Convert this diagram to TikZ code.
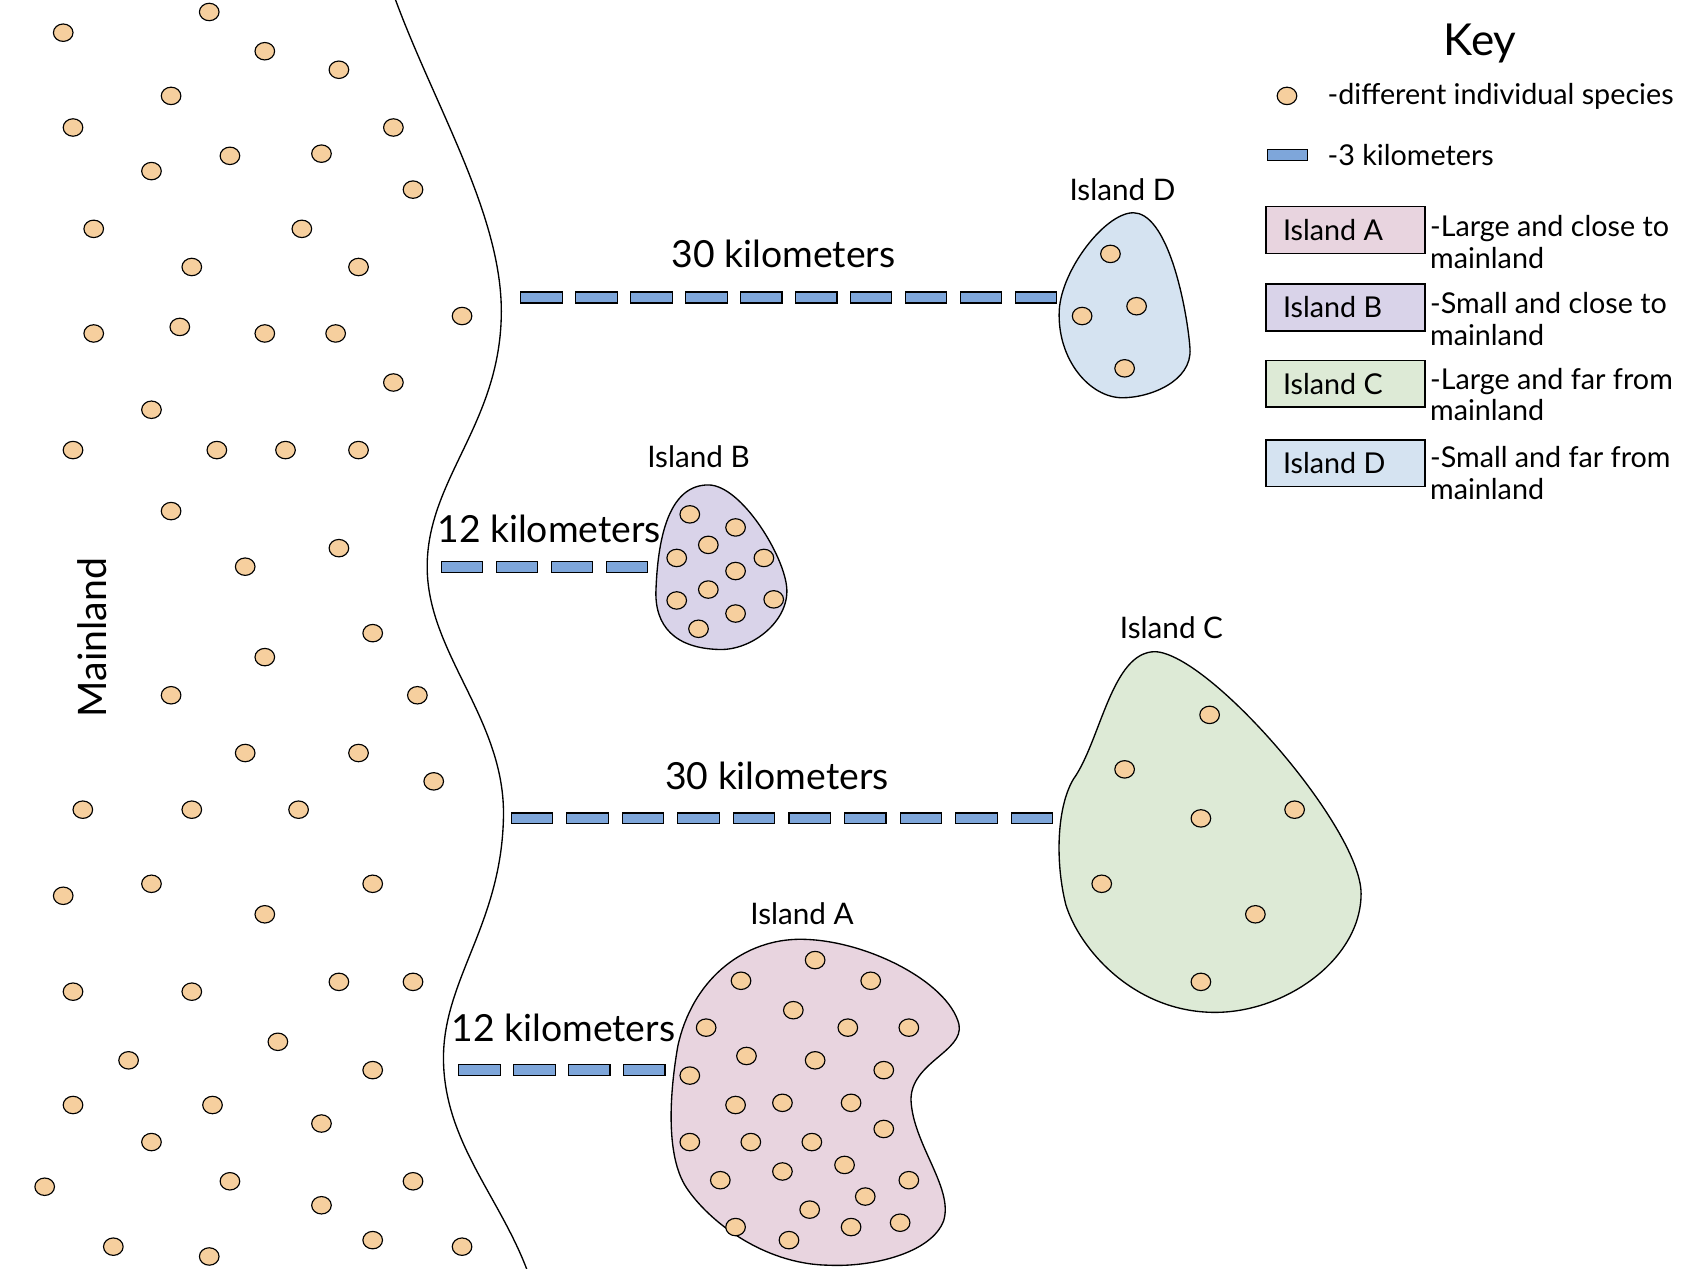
\documentclass[tikz,border=0pt]{standalone}
\usepackage{fontspec}
\setmainfont{Lato}
\begin{document}
\begin{tikzpicture}[x=0.02cm,y=-0.02cm,
  sp/.style={draw=black,line width=0.6pt,fill=spc},
  dsh/.style={draw=black,line width=0.6pt,fill=dashc},
  isl/.style={draw=black,line width=0.7pt},
  km/.style={font=\fontsize{19.5}{22}\selectfont},
  lbl/.style={font=\fontsize{15.5}{18}\selectfont},
  keyt/.style={font=\fontsize{15}{16.5}\selectfont,align=left,anchor=west,inner sep=0pt},
  keybox/.style={draw=black,line width=0.7pt,minimum width=2.92cm,minimum height=0.86cm,anchor=north west,inner sep=0pt},
  boxt/.style={font=\fontsize{15}{17}\selectfont,anchor=west,inner sep=0pt,xshift=0.32cm}]
\definecolor{spc}{HTML}{F6CF9E}
\definecolor{dashc}{HTML}{7EA6DA}
\definecolor{ca}{HTML}{E8D4DF}
\definecolor{cb}{HTML}{D9D3E9}
\definecolor{cc}{HTML}{DDEAD6}
\definecolor{cd}{HTML}{D5E3F1}
\useasboundingbox (0,0) rectangle (1560,1164.5);
% mainland coast
\draw[line width=0.7pt] (363,0) .. controls (400,100) and (462,200) .. (460,290)
  .. controls (458,390) and (392,440) .. (392,520)
  .. controls (392,600) and (464,660) .. (462,750)
  .. controls (460,850) and (405,900) .. (407,975)
  .. controls (409,1050) and (460,1100) .. (485,1169);
\node[rotate=90,font=\fontsize{20.5}{24}\selectfont] (ml) at (85,585) {Mainland};
% mainland species
\foreach \p in {(58,30),(192,11),(243,47),(311,64),(157,88),(67,117),(361,117),(139,157),(211,143),(295,141),(379,174),(86,210),(277,210),(176,245),(329,245),(424,290),(86,306),(165,300),(243,306),(308,306),(361,351),(139,376),(67,413),(199,413),(262,413),(329,413),(157,469),(311,503),(225,520),(342,581),(243,603),(157,638),(383,638),(225,691),(329,691),(398,717),(76,743),(176,743),(274,743),(58,822),(139,811),(342,811),(243,839),(67,910),(176,910),(311,901),(379,901),(118,973),(255,956),(342,982),(67,1014),(195,1014),(295,1031),(139,1048),(41,1089),(211,1084),(379,1084),(295,1106),(104,1144),(192,1153),(342,1138),(424,1144)}
  \draw[sp] \p ellipse [x radius=9,y radius=8];
% Island D
\draw[isl,fill=cd] (1045,196) .. controls (1075,205) and (1090,290) .. (1092,320)
  .. controls (1094,350) and (1055,365) .. (1030,365)
  .. controls (1000,365) and (970,330) .. (972,285)
  .. controls (974,245) and (1020,188) .. (1045,196) -- cycle;
\node[lbl] (ld) at (1030,174) {Island D};
% Island B
\draw[isl,fill=cb] (650,445) .. controls (680,445) and (720,510) .. (722,540)
  .. controls (724,570) and (690,597) .. (660,596)
  .. controls (620,595) and (600,575) .. (602,540)
  .. controls (604,490) and (615,445) .. (650,445) -- cycle;
\node[lbl] (lb) at (641,419) {Island B};
% Island C
\draw[isl,fill=cc] (1060,598) .. controls (1110,600) and (1249,760) .. (1249,820)
  .. controls (1249,880) and (1180,929) .. (1115,929)
  .. controls (1040,929) and (990,870) .. (978,830)
  .. controls (968,790) and (970,740) .. (985,715)
  .. controls (1010,680) and (1020,598) .. (1060,598) -- cycle;
\node[lbl] (lc) at (1075,576) {Island C};
% Island A
\draw[isl,fill=ca] (730,862) .. controls (790,860) and (870,900) .. (880,940)
  .. controls (885,965) and (835,975) .. (836,1010)
  .. controls (838,1050) and (875,1090) .. (866,1120)
  .. controls (855,1150) and (800,1163) .. (760,1161)
  .. controls (700,1160) and (650,1120) .. (630,1090)
  .. controls (610,1060) and (615,1000) .. (622,960)
  .. controls (635,900) and (680,864) .. (730,862) -- cycle;
\node[lbl] (la) at (736,838) {Island A};
% island species
\foreach \p in {(1019,233),(993,290),(1043,281),(1032,338),
 (633,472),(675,484),(650,500),(621,512),(701,512),(675,524),(650,541),(621,551),(710,550),(675,563),(641,577),
 (1110,656),(1032,706),(1102,751),(1188,743),(1011,811),(1152,839),(1102,901),
 (748,881),(680,900),(799,900),(728,927),(648,943),(778,943),(834,943),(685,969),(748,973),(811,982),(633,987),(675,1014),(718,1012),(781,1012),(811,1036),(633,1048),(689,1048),(745,1048),(661,1083),(718,1075),(775,1069),(834,1083),(794,1098),(743,1110),(675,1126),(724,1138),(781,1126),(826,1122)}
  \draw[sp] \p ellipse [x radius=9,y radius=8];
% dashes
\foreach \k in {0,...,9} \draw[dsh] (478+\k*50.4,268) rectangle ++(38,10);
\foreach \k in {0,...,3} \draw[dsh] (405+\k*50.4,515) rectangle ++(38,10);
\foreach \k in {0,...,9} \draw[dsh] (469+\k*51,746) rectangle ++(38,10);
\foreach \k in {0,...,3} \draw[dsh] (421+\k*50.4,977) rectangle ++(38,10);
\node[km] (k1) at (719,233) {30 kilometers};
\node[km] (k2) at (504,485) {12 kilometers};
\node[km] (k3) at (713,712) {30 kilometers};
\node[km] (k4) at (517,943) {12 kilometers};
% key
\node[font=\fontsize{23}{26}\selectfont] (key) at (1358,40) {Key};
\draw[sp] (1181,88) ellipse [x radius=9,y radius=8];
\node[keyt] (t1) at (1218,88) {-different individual species};
\draw[dsh] (1163,137) rectangle ++(37,10);
\node[keyt] (t2) at (1218,142) {-3 kilometers};
\node[keybox,fill=ca] (ba) at (1161,189) {};
\node[keybox,fill=cb] (bb) at (1161,260) {};
\node[keybox,fill=cc] (bc) at (1161,330) {};
\node[keybox,fill=cd] (bd) at (1161,403) {};
\node[boxt] (ta) at (ba.west) {Island A};
\node[boxt] (tb) at (bb.west) {Island B};
\node[boxt] (tc) at (bc.west) {Island C};
\node[boxt] (td) at (bd.west) {Island D};
\node[keyt] (da) at (1312,222) {-Large and close to\\mainland};
\node[keyt] (db) at (1312,293) {-Small and close to\\mainland};
\node[keyt] (dc) at (1312,362) {-Large and far from\\mainland};
\node[keyt] (dd) at (1312,434) {-Small and far from\\mainland};
\end{tikzpicture}
\end{document}
